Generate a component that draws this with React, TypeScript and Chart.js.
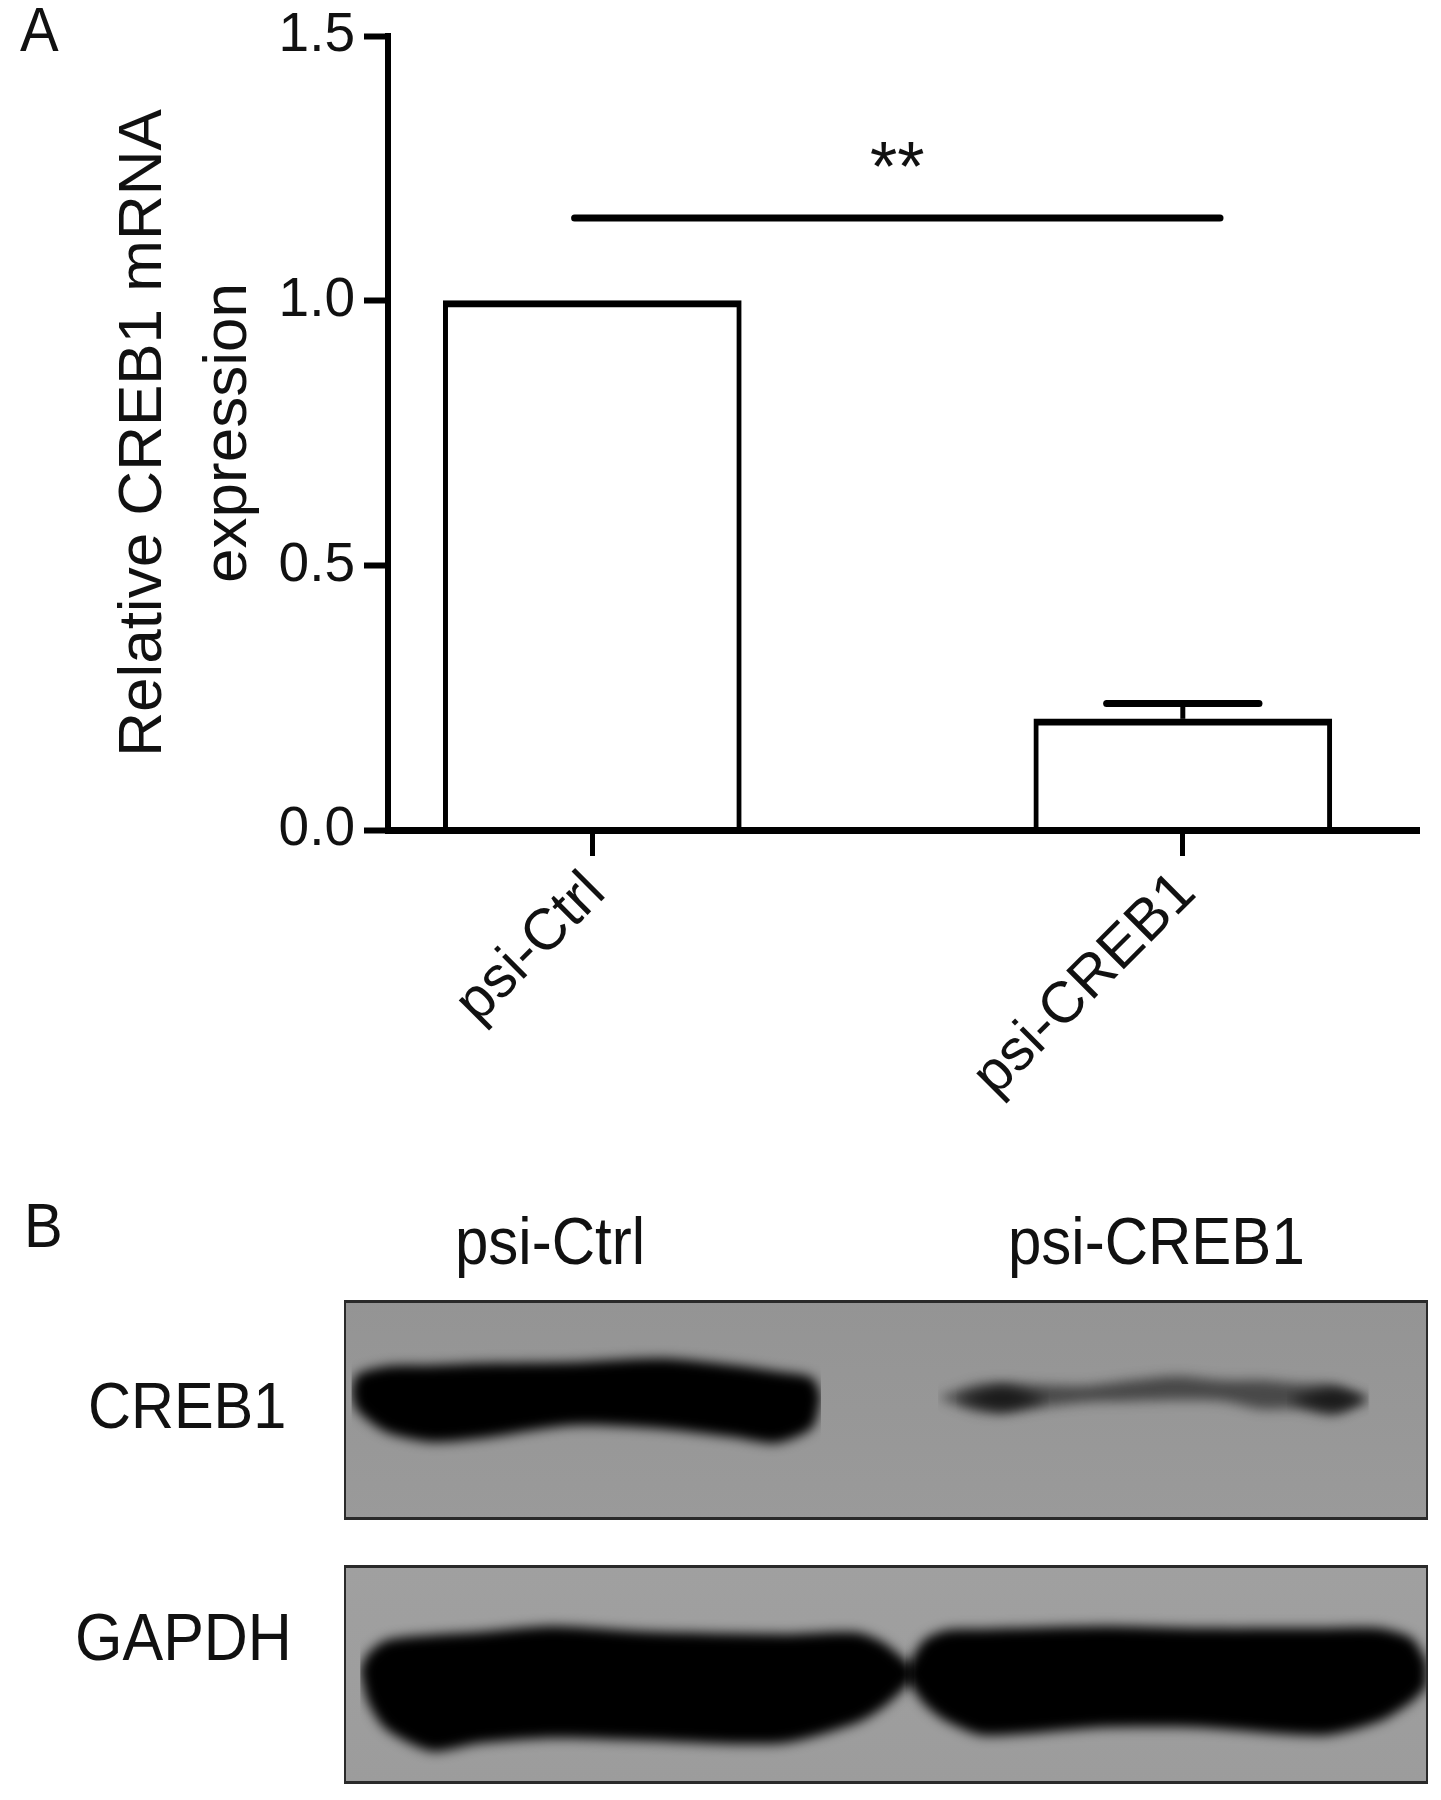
import React, { useEffect, useRef } from "react";
import { Chart, registerables } from "chart.js";

Chart.register(...registerables);

const FONT = '"Liberation Sans", Arial, sans-serif';

// Panel A values
const categories = ["psi-Ctrl", "psi-CREB1"];
const categoryPositions = [1, 2];
const meanExpression = [1.0, 0.21];
const errorTop = 0.239;
const capSpan = [1.871, 2.129];
const yTicks = [0, 0.5, 1.0, 1.5];
const significanceSpan = [0.97, 2.063];
const significanceLevel = 1.156;
const significanceLabel = "**";
const yTitle = ["Relative CREB1 mRNA", "expression"];

// Panel B band outlines, in percent of each blot
const creb1CtrlX = [0.7, 1.2, 3.9, 8.1, 12.4, 20.9, 29.3, 36.1, 39.9, 43.2, 44];
const creb1CtrlTop = [58, 66, 69.8, 70.2, 71.1, 71.6, 73.4, 70.2, 67.5, 64.5, 56];
const creb1CtrlBottom = [58, 50, 40, 35.5, 37, 43, 41.5, 37.6, 35, 42, 56];

const creb1KdX = [54.8, 58.2, 60.7, 64.1, 68.4, 72.6, 76.8, 81.1, 84.5, 87.9, 91.3, 94.6];
const creb1KdTop = [55.7, 61.5, 62.5, 61.5, 61, 63.5, 65.5, 63.5, 63.5, 62, 61.5, 55];
const creb1KdBottom = [55.7, 49.5, 48.5, 51, 53.5, 54, 54.5, 54, 50.5, 50.5, 48, 54.8];

const creb1SpotAX = [56.5, 60.7, 65];
const creb1SpotATop = [55, 60.5, 55];
const creb1SpotABottom = [55, 50, 55];
const creb1SpotBX = [87, 91.3, 94.5];
const creb1SpotBTop = [55, 59.5, 55];
const creb1SpotBBottom = [55, 49.5, 55];

const gapdhLeftX = [1.5, 2.2, 3.9, 8.1, 12.4, 19.2, 27.7, 40.4, 47.2, 49.7, 52.6];
const gapdhLeftTop = [52.1, 59.3, 65.6, 68, 69.3, 72, 69.6, 68.4, 69.3, 64.7, 53];
const gapdhLeftBottom = [52.1, 37.6, 25, 15, 18.6, 21, 19.9, 18.6, 27.7, 34.9, 48];

const gapdhRightX = [51.8, 53.5, 55.6, 59, 70.1, 78.6, 90.4, 95.5, 98.5, 99.9];
const gapdhRightTop = [52.1, 65.6, 70.2, 70.7, 72, 71.1, 71.1, 71.1, 66.5, 55.7];
const gapdhRightBottom = [48.5, 36.7, 28.6, 22.2, 25.9, 25.9, 22.2, 28.6, 37.6, 44.8];

const pts = (xs: number[], ys: number[]) => xs.map((x, i) => ({ x, y: ys[i] }));

function bandDatasets(xs: number[], top: number[], bottom: number[], color: string) {
  return [
    {
      data: pts(xs, top),
      showLine: true,
      pointRadius: 0,
      borderWidth: 0,
      borderColor: "transparent",
      backgroundColor: color,
      fill: "+1",
      tension: 0.25,
    },
    {
      data: pts(xs, bottom),
      showLine: true,
      pointRadius: 0,
      borderWidth: 0,
      borderColor: "transparent",
      backgroundColor: "transparent",
      fill: false,
      tension: 0.25,
    },
  ];
}

const blurPlugin = (bg: string, bg2: string) => ({
  id: "blot",
  beforeDraw(chart: any) {
    const { ctx, width, height } = chart;
    const g = ctx.createLinearGradient(0, 0, 0, height);
    g.addColorStop(0, bg);
    g.addColorStop(1, bg2);
    ctx.fillStyle = g;
    ctx.fillRect(0, 0, width, height);
  },
  beforeDatasetsDraw(chart: any) {
    chart.ctx.filter = "blur(6px)";
  },
  afterDatasetsDraw(chart: any) {
    chart.ctx.filter = "none";
  },
  afterDraw(chart: any) {
    const { ctx, width, height } = chart;
    ctx.save();
    ctx.strokeStyle = "#2a2a2a";
    ctx.lineWidth = 2;
    ctx.strokeRect(1, 1, width - 2, height - 2);
    ctx.fillStyle = "#2a2a2a";
    ctx.fillRect(0, 0, width, 3);
    ctx.fillRect(0, height - 3, width, 3);
    ctx.restore();
  },
});

function Blot({ top, height, bg, bg2, datasets }: any) {
  const ref = useRef<HTMLCanvasElement>(null);
  useEffect(() => {
    const chart = new Chart(ref.current!, {
      type: "scatter",
      data: { datasets },
      options: {
        responsive: false,
        animation: false,
        layout: { padding: 0 },
        plugins: { legend: { display: false }, tooltip: { enabled: false } },
        scales: {
          x: { type: "linear", min: 0, max: 100, display: false },
          y: { type: "linear", min: 0, max: 100, display: false },
        },
      },
      plugins: [blurPlugin(bg, bg2)],
    } as any);
    return () => chart.destroy();
  }, []);
  return (
    <canvas
      ref={ref}
      width={1084}
      height={height}
      style={{ position: "absolute", left: 344, top, width: 1084, height }}
    />
  );
}

function Label({ x, base, size, children }: any) {
  return (
    <div
      style={{
        position: "absolute",
        left: x,
        top: base - size,
        fontFamily: FONT,
        fontSize: size,
        lineHeight: `${size * 1.2}px`,
        color: "#111",
        whiteSpace: "nowrap",
        transform: "scaleY(1.1)",
        transformOrigin: "0 83%",
      }}
    >
      {children}
    </div>
  );
}

export default function App() {
  const ref = useRef<HTMLCanvasElement>(null);
  useEffect(() => {
    const chart = new Chart(ref.current!, {
      type: "bar",
      data: {
        datasets: [
          {
            type: "bar",
            data: pts(categoryPositions, meanExpression),
            backgroundColor: "#ffffff",
            borderColor: "#000000",
            borderWidth: { top: 7, left: 5, right: 5, bottom: 0 },
            borderSkipped: false,
            barThickness: 298,
            order: 3,
          },
          {
            type: "line",
            data: pts([categoryPositions[1], categoryPositions[1]], [meanExpression[1], errorTop]),
            borderColor: "#000",
            borderWidth: 5,
            pointRadius: 0,
            order: 2,
          },
          {
            type: "line",
            data: pts(capSpan, [errorTop, errorTop]),
            borderColor: "#000",
            borderWidth: 7,
            pointRadius: 0,
            borderCapStyle: "round",
            order: 2,
          },
          {
            type: "line",
            data: pts(significanceSpan, [significanceLevel, significanceLevel]),
            borderColor: "#000",
            borderWidth: 7,
            pointRadius: 0,
            borderCapStyle: "round",
            order: 1,
          },
        ],
      } as any,
      options: {
        responsive: false,
        animation: false,
        layout: { padding: { top: 36, right: 22, left: 0, bottom: 0 } },
        plugins: { legend: { display: false }, tooltip: { enabled: false } },
        scales: {
          x: {
            type: "linear",
            min: 0.654,
            max: 2.4,
            offset: false,
            afterBuildTicks: (s: any) => {
              s.ticks = categoryPositions.map((value) => ({ value }));
            },
            afterFit: (s: any) => {
              s.height = 320;
              s.paddingLeft = 0;
              s.paddingRight = 0;
            },
            border: { color: "#000", width: 7, z: 1 },
            grid: {
              offset: false,
              drawOnChartArea: false,
              drawTicks: true,
              tickLength: 26,
              tickWidth: 5,
              tickColor: "#000",
            },
            ticks: {
              autoSkip: false,
              minRotation: 45,
              maxRotation: 45,
              labelOffset: 4,
              padding: 3,
              color: "#111",
              font: { family: FONT, size: 58 },
              callback: (v: any) => categories[categoryPositions.indexOf(v)],
            },
          },
          y: {
            min: 0,
            max: 1.5,
            afterBuildTicks: (s: any) => {
              s.ticks = yTicks.map((value) => ({ value }));
            },
            afterFit: (s: any) => {
              s.width = 388;
              s.paddingTop = 0;
              s.paddingBottom = 0;
            },
            border: { color: "#000", width: 6, z: 1 },
            grid: {
              drawOnChartArea: false,
              drawTicks: true,
              tickLength: 24,
              tickWidth: 6,
              tickColor: "#000",
            },
            ticks: {
              padding: 9,
              color: "#111",
              font: { family: FONT, size: 55 },
              callback: (v: any) => Number(v).toFixed(1),
            },
            title: {
              display: true,
              text: yTitle,
              color: "#111",
              font: { family: FONT, size: 62, lineHeight: 1.38 },
              padding: { top: 101, bottom: 0 },
            },
          },
        },
      },
      plugins: [
        {
          id: "significance",
          afterDatasetsDraw(c: any) {
            const { ctx, scales } = c;
            const mid = (significanceSpan[0] + significanceSpan[1]) / 2;
            ctx.save();
            ctx.fillStyle = "#111";
            ctx.font = `70px ${FONT}`;
            ctx.textAlign = "center";
            ctx.textBaseline = "alphabetic";
            ctx.fillText(significanceLabel, scales.x.getPixelForValue(mid), scales.y.getPixelForValue(significanceLevel) - 27);
            ctx.restore();
          },
        },
      ],
    } as any);
    return () => chart.destroy();
  }, []);

  return (
    <div style={{ position: "absolute", left: 0, top: 0, width: 1441, height: 1800, background: "#fff", overflow: "hidden" }}>
      <canvas ref={ref} width={1441} height={1150} style={{ position: "absolute", left: 0, top: 0, width: 1441, height: 1150 }} />
      <Label x={20} base={54} size={58}>A</Label>
      <Label x={24} base={1250} size={58}>B</Label>
      <Label x={455} base={1268} size={60}>psi-Ctrl</Label>
      <Label x={1008} base={1268} size={60}>psi-CREB1</Label>
      <Label x={88} base={1431} size={59.5}>CREB1</Label>
      <Label x={75} base={1664} size={61}>GAPDH</Label>
      <Blot
        top={1300}
        height={220}
        bg="#949494"
        bg2="#9a9a9a"
        datasets={[
          ...bandDatasets(creb1CtrlX, creb1CtrlTop, creb1CtrlBottom, "#000000"),
          ...bandDatasets(creb1KdX, creb1KdTop, creb1KdBottom, "rgba(25,25,25,0.62)"),
          ...bandDatasets(creb1SpotAX, creb1SpotATop, creb1SpotABottom, "rgba(0,0,0,0.8)"),
          ...bandDatasets(creb1SpotBX, creb1SpotBTop, creb1SpotBBottom, "rgba(0,0,0,0.8)"),
        ]}
      />
      <Blot
        top={1565}
        height={219}
        bg="#a0a0a0"
        bg2="#9c9c9c"
        datasets={[
          ...bandDatasets(gapdhLeftX, gapdhLeftTop, gapdhLeftBottom, "#000000"),
          ...bandDatasets(gapdhRightX, gapdhRightTop, gapdhRightBottom, "#000000"),
        ]}
      />
    </div>
  );
}
